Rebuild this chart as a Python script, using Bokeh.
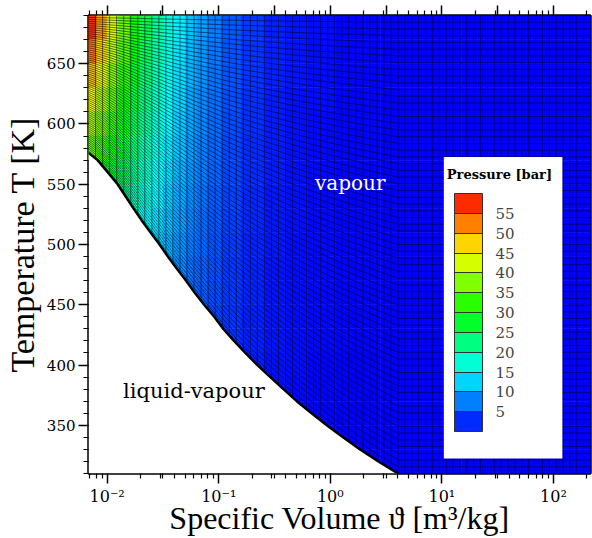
import numpy as np
from bokeh.plotting import figure
from bokeh.models import (LinearColorMapper, ColorBar, FixedTicker, LinearAxis, Label,
                          SingleIntervalTicker, ColumnDataSource, BoxAnnotation)
from bokeh.embed import file_html
from bokeh.resources import INLINE

# ---------------- data ----------------
# saturation (dew) curve of the vapour dome
T_sat = [576.0, 570.0, 560.0, 550.0, 540.0, 530.0, 520.0, 510.0, 500.0, 490.0,
         480.0, 470.0, 460.0, 450.0, 440.0, 430.0, 420.0, 410.0, 400.0, 390.0,
         380.0, 370.0, 360.0, 350.0, 340.0, 330.0, 320.0, 310.0]
v_sat = [0.0068, 0.0082, 0.0101, 0.0124, 0.0146, 0.0172, 0.0204, 0.0245, 0.0295, 0.035,
         0.042, 0.051, 0.061, 0.074, 0.091, 0.110, 0.137, 0.173, 0.222, 0.29,
         0.38, 0.50, 0.68, 0.93, 1.30, 1.85, 2.70, 4.05]

# pressure field [bar] sampled on a coarse (v, T) table (None = inside the dome)
v_cols = [0.0073, 0.0089, 0.0112, 0.0141, 0.0178, 0.0224, 0.0282, 0.0355, 0.0447, 0.0562,
          0.0708, 0.0891, 0.126, 0.2, 0.316, 0.5, 0.794, 1.58, 5.0, 44.7]
T_rows = [680, 660, 640, 620, 600, 580, 560, 540, 520, 500,
          480, 460, 440, 420, 400, 380, 360, 340, 320]
N_ = None
P_bar = [
    [56.5, 50.0, 43.0, 36.5, 30.8, 25.8, 21.4, 17.6, 14.4, 11.7, 9.40, 7.50, 5.30, 3.30, 2.05, 1.28, 0.80, 0.40, 0.12, 0.01],
    [52.6, 46.9, 40.6, 34.7, 29.4, 24.7, 20.5, 16.9, 13.8, 11.2, 9.05, 7.25, 5.15, 3.20, 1.98, 1.24, 0.77, 0.38, 0.12, 0.01],
    [48.5, 43.7, 38.2, 32.8, 27.9, 23.6, 19.7, 16.2, 13.2, 10.8, 8.70, 6.98, 4.98, 3.10, 1.91, 1.20, 0.74, 0.37, 0.12, 0.01],
    [44.4, 40.5, 35.7, 30.9, 26.5, 22.4, 18.8, 15.5, 12.7, 10.3, 8.35, 6.72, 4.80, 2.99, 1.85, 1.16, 0.72, 0.36, 0.11, 0.01],
    [40.3, 37.2, 33.2, 28.9, 24.9, 21.2, 17.8, 14.8, 12.1, 9.85, 8.00, 6.45, 4.62, 2.88, 1.79, 1.12, 0.70, 0.35, 0.11, 0.01],
    [36.1, 33.9, 30.6, 26.9, 23.3, 19.9, 16.8, 14.0, 11.5, 9.40, 7.65, 6.18, 4.44, 2.78, 1.73, 1.08, 0.67, 0.34, 0.10, 0.01],
    [N_, 30.5, 28.0, 24.8, 21.6, 18.6, 15.8, 13.2, 10.9, 8.95, 7.30, 5.90, 4.26, 2.67, 1.66, 1.04, 0.65, 0.33, 0.10, 0.01],
    [N_, N_, 25.3, 22.7, 19.9, 17.3, 14.8, 12.4, 10.3, 8.48, 6.93, 5.62, 4.07, 2.56, 1.60, 1.00, 0.62, 0.31, 0.10, 0.01],
    [N_, N_, N_, N_, 18.2, 15.9, 13.7, 11.6, 9.70, 8.00, 6.56, 5.34, 3.88, 2.45, 1.53, 0.96, 0.60, 0.30, 0.09, 0.01],
    [N_, N_, N_, N_, N_, 14.5, 12.6, 10.8, 9.05, 7.52, 6.19, 5.05, 3.69, 2.34, 1.47, 0.92, 0.57, 0.29, 0.09, 0.01],
    [N_, N_, N_, N_, N_, N_, N_, 9.95, 8.40, 7.02, 5.81, 4.76, 3.50, 2.22, 1.40, 0.88, 0.55, 0.28, 0.09, 0.01],
    [N_, N_, N_, N_, N_, N_, N_, N_, N_, 6.52, 5.43, 4.47, 3.30, 2.11, 1.33, 0.84, 0.52, 0.26, 0.08, 0.01],
    [N_, N_, N_, N_, N_, N_, N_, N_, N_, N_, 5.04, 4.17, 3.10, 2.00, 1.26, 0.80, 0.50, 0.25, 0.08, 0.01],
    [N_, N_, N_, N_, N_, N_, N_, N_, N_, N_, N_, N_, 2.90, 1.88, 1.19, 0.76, 0.47, 0.24, 0.08, 0.01],
    [N_, N_, N_, N_, N_, N_, N_, N_, N_, N_, N_, N_, N_, 1.76, 1.12, 0.72, 0.45, 0.23, 0.07, 0.01],
    [N_, N_, N_, N_, N_, N_, N_, N_, N_, N_, N_, N_, N_, N_, 1.06, 0.68, 0.43, 0.21, 0.07, 0.01],
    [N_, N_, N_, N_, N_, N_, N_, N_, N_, N_, N_, N_, N_, N_, N_, 0.64, 0.40, 0.20, 0.06, 0.01],
    [N_, N_, N_, N_, N_, N_, N_, N_, N_, N_, N_, N_, N_, N_, N_, N_, 0.38, 0.19, 0.06, 0.01],
    [N_, N_, N_, N_, N_, N_, N_, N_, N_, N_, N_, N_, N_, N_, N_, N_, N_, 0.18, 0.06, 0.01],
]

cbar_ticks = [5, 10, 15, 20, 25, 30, 35, 40, 45, 50, 55]
x_tick_values = [0.01, 0.1, 1.0, 10.0, 100.0]
x_tick_labels = ["10\u207b\u00b2", "10\u207b\u00b9", "10\u2070", "10\u00b9", "10\u00b2"]

# ---------------- layout constants ----------------
X0, X1 = 0.0068, 215.0
Y0, Y1 = 310.0, 690.0
P_LOW, P_HIGH = 0.0, 60.0
SERIF = "DejaVu Serif"
TITLE_FONT = "Liberation Serif"


def rainbow(t):
    stops = np.array([[0, 0, 255], [0, 255, 255], [0, 255, 0], [255, 255, 0], [255, 0, 0]], float)
    pos = np.linspace(0, 1, len(stops))
    rgb = [int(round(np.interp(t, pos, stops[:, k]))) for k in range(3)]
    return "#%02x%02x%02x" % tuple(rgb)


palette = [rainbow(i / 255) for i in range(256)]
band_colors = [rainbow((k + 0.5) / 12) for k in range(12)]

p = figure(width=592, height=538, x_axis_type="log", x_range=(X0, X1), y_range=(Y0, Y1),
           output_backend="svg", toolbar_location=None,
           min_border_left=86, min_border_right=2, min_border_top=15, min_border_bottom=63)
p.title.visible = False
p.grid.visible = False
p.background_fill_color = "white"
p.border_fill_color = "white"
p.outline_line_color = "black"
p.outline_line_width = 2.5

# ---------------- coloured cells ----------------
lc = np.log10(v_cols)
v_edges = 10 ** np.concatenate([[np.log10(X0)], (lc[:-1] + lc[1:]) / 2, [np.log10(X1)]])
Tr = np.array(T_rows, float)
T_edges = np.concatenate([[Y1], (Tr[:-1] + Tr[1:]) / 2, [Y0]])
left, right, top, bottom, pv = [], [], [], [], []
for j, row in enumerate(P_bar):
    for i, val in enumerate(row):
        if val is None:
            continue
        left.append(v_edges[i]); right.append(v_edges[i + 1])
        top.append(T_edges[j]); bottom.append(T_edges[j + 1]); pv.append(val)
mapper = LinearColorMapper(palette=palette, low=P_LOW, high=P_HIGH)
src = ColumnDataSource(dict(left=left, right=right, top=top, bottom=bottom, P=pv))
p.quad(left="left", right="right", top="top", bottom="bottom", source=src,
       fill_color={"field": "P", "transform": mapper},
       line_color={"field": "P", "transform": mapper}, line_width=0.6)

# two-phase region (white)
p.patch(v_sat + [v_sat[0]], T_sat + [T_sat[-1]], fill_color="white", line_color=None)

# ---------------- body-fitted mesh lines ----------------
n_left, n_right, n_rows = 44, 28, 68
lvs = np.log10(v_sat)
lv_left = np.linspace(lvs[0], lvs[-1], n_left + 1)
lv_right = np.linspace(lvs[-1], np.log10(X1), n_right + 1)[1:]
Ts_left = np.interp(lv_left, lvs, T_sat)
mx, my = [], []
for lv, ts in zip(lv_left[1:], Ts_left[1:]):
    mx.append([10 ** lv, 10 ** lv]); my.append([ts, Y1])
for lv in lv_right[:-1]:
    mx.append([10 ** lv, 10 ** lv]); my.append([Y0, Y1])
for f in np.arange(1, n_rows) / n_rows:
    rx = list(10 ** lv_left) + list(10 ** lv_right)
    ry = list(Ts_left + (Y1 - Ts_left) * f) + [Y0 + (Y1 - Y0) * f] * len(lv_right)
    mx.append(rx); my.append(ry)
p.multi_line(mx, my, line_color="#000020", line_alpha=0.62, line_width=0.9)

# saturation curve
p.line(v_sat, T_sat, line_color="black", line_width=2.5)

# ---------------- axes ----------------
half = [10 ** (k + 0.5) for k in range(-3, 3) if X0 <= 10 ** (k + 0.5) <= X1]
minor = [m * 10.0 ** k for k in range(-3, 3) for m in range(2, 10) if X0 <= m * 10.0 ** k <= X1]


def style_axis(ax):
    ax.axis_line_color = None
    ax.major_tick_out = 10
    ax.major_tick_in = 0
    ax.minor_tick_out = 5
    ax.minor_tick_in = 0
    ax.major_tick_line_width = 1.5
    ax.minor_tick_line_width = 1.2
    ax.major_tick_line_color = "black"
    ax.minor_tick_line_color = "black"
    ax.major_label_text_font = SERIF
    ax.major_label_text_font_size = "15px"
    ax.major_label_text_color = "black"
    ax.major_label_standoff = 3
    ax.axis_label_text_font = TITLE_FONT
    ax.axis_label_text_font_style = "normal"
    ax.axis_label_text_font_size = "32px"
    ax.axis_label_text_color = "black"


xax = p.xaxis[0]
xax.ticker = FixedTicker(ticks=x_tick_values, minor_ticks=sorted(minor + half))
xax.major_label_overrides = {v: l for v, l in zip(x_tick_values, x_tick_labels)}
xax.axis_label = "Specific Volume \u03d1 [m\u00b3/kg]"
style_axis(xax)
xax.major_label_text_font_size = "16px"
xax.axis_label_standoff = -9

yax = p.yaxis[0]
yax.ticker = SingleIntervalTicker(interval=50, num_minor_ticks=5)
yax.axis_label = "Temperature T [K]"
style_axis(yax)
yax.axis_label_text_font_size = "34px"
yax.axis_label_standoff = 3

# top axis: tick marks only (labels fully transparent)
top_ax = LinearAxis(ticker=FixedTicker(ticks=sorted(x_tick_values + half), minor_ticks=minor),
                    major_label_text_font_size="6px", major_label_text_alpha=0.0,
                    major_label_standoff=0, axis_line_color=None,
                    major_tick_out=10, major_tick_in=0, minor_tick_out=5, minor_tick_in=0,
                    major_tick_line_color="black", minor_tick_line_color="black",
                    major_tick_line_width=1.5, minor_tick_line_width=1.2)
p.add_layout(top_ax, "above")

# ---------------- annotations ----------------
p.add_layout(Label(x=1.51, y=551, text="vapour", text_color="white", text_font=SERIF,
                   text_font_size="20px", text_align="center", text_baseline="middle"))
p.add_layout(Label(x=0.0599, y=378.6, text="liquid-vapour", text_color="black", text_font=SERIF,
                   text_font_size="21px", text_align="center", text_baseline="middle"))

# legend box, colour bar and its title
p.add_layout(BoxAnnotation(left=10.42, right=120.3, bottom=322.4, top=572.7,
                           fill_color="white", fill_alpha=1.0, line_color=None))
cb = ColorBar(color_mapper=LinearColorMapper(palette=band_colors, low=P_LOW, high=P_HIGH),
              ticker=FixedTicker(ticks=cbar_ticks), width=28, height=238,
              title=None, padding=0,
              major_label_text_font=SERIF, major_label_text_font_size="15px",
              label_standoff=13, major_tick_in=28, major_tick_out=0,
              major_tick_line_color="#333333", major_tick_line_width=1,
              bar_line_color="#333333", background_fill_alpha=0.0,
              border_line_color=None, location=(366, 42))
p.add_layout(cb, "center")
p.add_layout(Label(x=11.08, y=557.8, text="Pressure [bar]", text_color="black", text_font=SERIF,
                   text_font_style="bold", text_font_size="13px", text_align="left",
                   text_baseline="middle"))

open("out.html", "w").write(file_html(p, INLINE))
